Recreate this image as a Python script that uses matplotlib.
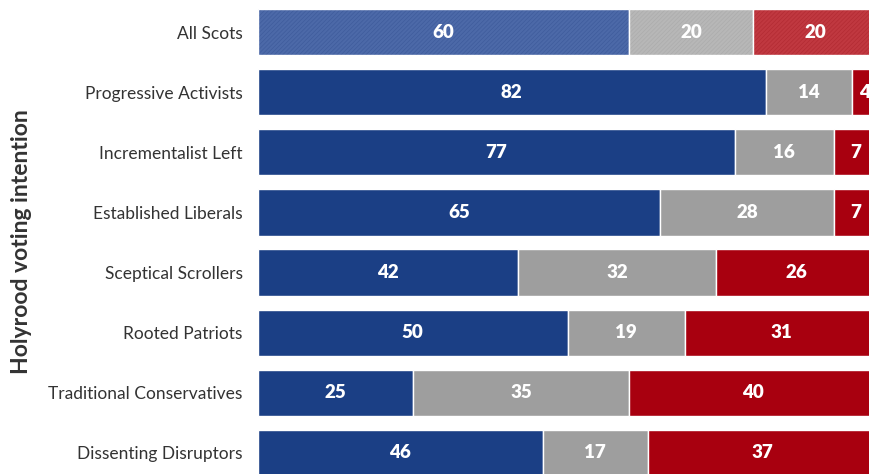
import numpy as np
import matplotlib.pyplot as plt

# segments of Scots by Holyrood voting intention (%)
groups = ["All Scots", "Progressive Activists", "Incrementalist Left",
          "Established Liberals", "Sceptical Scrollers", "Rooted Patriots",
          "Traditional Conservatives", "Dissenting Disruptors"]
blue_vals = [60, 82, 77, 65, 42, 50, 25, 46]
grey_vals = [20, 14, 16, 28, 32, 19, 35, 17]
red_vals = [20, 4, 7, 7, 26, 31, 40, 37]

colors = ["#1b3f85", "#9e9e9e", "#a8000f"]
light_colors = ["#4c69a8", "#b7b7b7", "#c03840"]
hatch_colors = ["#3f5c9c", "#acacac", "#b32b33"]

plt.rcParams['font.family'] = ['Lato', 'DejaVu Sans']
plt.rcParams['hatch.linewidth'] = 0.5

fig = plt.figure(figsize=(8.69, 4.74), dpi=100)
# axes run a bit past the right and bottom edges, like the cropped original
ax = fig.add_axes([258 / 869, -9 / 474, 619 / 869, 481 / 474])

y = np.arange(len(groups))
series = [blue_vals, grey_vals, red_vals]
left = np.zeros(len(groups))
for k, vals in enumerate(series):
    vals = np.array(vals, dtype=float)
    for i in range(len(groups)):
        if i == 0:
            # the overall row is drawn with a fine hatch
            ax.barh(y[i], vals[i], left=left[i], height=0.77,
                    color=light_colors[k], edgecolor=hatch_colors[k],
                    hatch='////////', linewidth=0)
            ax.barh(y[i], vals[i], left=left[i], height=0.77, fill=False,
                    edgecolor='white', linewidth=1)
        else:
            ax.barh(y[i], vals[i], left=left[i], height=0.77,
                    color=colors[k], edgecolor='white', linewidth=1)
        ax.text(left[i] + vals[i] / 2, y[i], str(int(vals[i])),
                ha='center', va='center', color='white',
                fontsize=13.5, fontweight='heavy')
    left += vals

ax.set_xlim(0, 100)
ax.set_ylim(7.5, -0.5)
ax.set_yticks(y)
ax.set_yticklabels(groups, fontsize=12.5, color='#333333')
ax.tick_params(axis='y', length=0, pad=11)
ax.set_xticks([])
for s in ax.spines.values():
    s.set_visible(False)

fig.text(22 / 869, 0.49, "Holyrood voting intention", rotation=90,
         ha='center', va='center', fontsize=16.5, fontweight='bold',
         color='#333333')

fig.savefig("out.png", dpi=100)
